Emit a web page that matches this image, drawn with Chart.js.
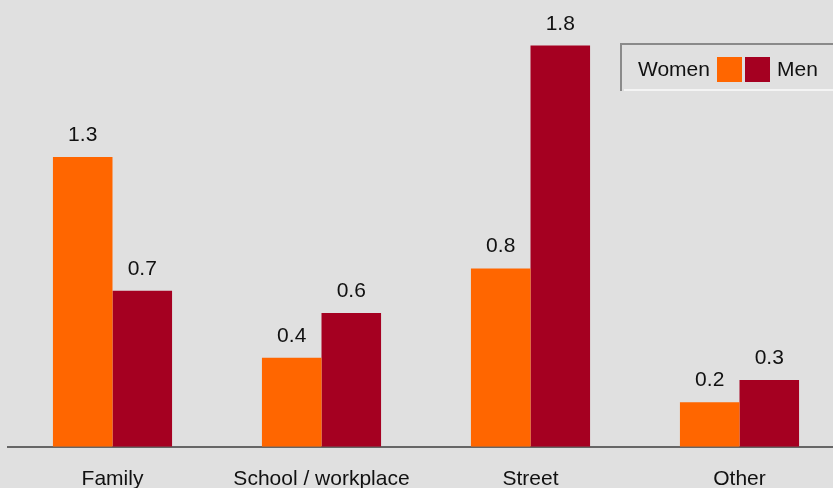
<!DOCTYPE html>
<html>
<head>
<meta charset="utf-8">
<script src="https://cdn.jsdelivr.net/npm/chart.js@4/dist/chart.umd.min.js"></script>
<style>
  html, body { margin: 0; padding: 0; background: #e0e0e0; overflow: hidden; }
  #wrap { width: 833px; height: 488px; overflow: hidden; position: relative; }
  #box { width: 844px; height: 512px; }
</style>
</head>
<body>
<div id="wrap"><div id="box"><canvas id="chart"></canvas></div></div>
<script>
// --- data ---
const categories = ["Family", "School / workplace", "Street", "Other"];
const womenValues = [1.3, 0.4, 0.8, 0.2];
const menValues = [0.7, 0.6, 1.8, 0.3];
const seriesNames = ["Women", "Men"];
const seriesColors = ["#ff6600", "#a50021"];

const FONT = "'Liberation Sans', Arial, sans-serif";

// value labels above each bar
const valueLabels = {
    id: "valueLabels",
    afterDatasetsDraw(chart) {
        const ctx = chart.ctx;
        ctx.save();
        ctx.font = "21px " + FONT;
        ctx.fillStyle = "#111";
        ctx.textAlign = "center";
        ctx.textBaseline = "alphabetic";
        chart.data.datasets.forEach((ds, i) => {
            chart.getDatasetMeta(i).data.forEach((bar, j) => {
                ctx.fillText(ds.data[j].toFixed(1), bar.x, bar.y - 16);
            });
        });
        ctx.restore();
    }
};

// legend box in the top right: "Women [■][■] Men"
const boxLegend = {
    id: "boxLegend",
    afterDraw(chart) {
        const ctx = chart.ctx;
        const ds = chart.data.datasets;
        ctx.save();
        // frame
        ctx.strokeStyle = "#f4f4f4";
        ctx.lineWidth = 2;
        ctx.beginPath();
        ctx.moveTo(624, 90); ctx.lineTo(844, 90);
        ctx.stroke();
        ctx.strokeStyle = "#8a8a8a";
        ctx.beginPath();
        ctx.moveTo(621, 91); ctx.lineTo(621, 44); ctx.lineTo(844, 44);
        ctx.stroke();

        ctx.font = "21px " + FONT;
        ctx.fillStyle = "#111";
        ctx.textBaseline = "alphabetic";
        ctx.textAlign = "left";
        ctx.fillText(ds[0].label, 638, 76);
        ctx.fillStyle = ds[0].backgroundColor;
        ctx.fillRect(717, 57, 25, 25);
        ctx.fillStyle = ds[1].backgroundColor;
        ctx.fillRect(745, 57, 25, 25);
        ctx.fillStyle = "#111";
        ctx.fillText(ds[1].label, 777, 76);
        ctx.restore();
    }
};

new Chart(document.getElementById("chart"), {
    type: "bar",
    data: {
        labels: categories,
        datasets: [
            { label: seriesNames[0], data: womenValues, backgroundColor: seriesColors[0] },
            { label: seriesNames[1], data: menValues, backgroundColor: seriesColors[1] }
        ]
    },
    options: {
        responsive: true,
        maintainAspectRatio: false,
        animation: false,
        layout: { padding: { left: 8, right: 0, top: 1, bottom: 0 } },
        datasets: { bar: { categoryPercentage: 0.57, barPercentage: 1.0 } },
        plugins: {
            legend: { display: false },
            tooltip: { enabled: false }
        },
        scales: {
            x: {
                grid: { display: false, drawTicks: false },
                border: { display: true, color: "#666", width: 2 },
                ticks: { color: "#111", padding: 20, font: { size: 21, family: FONT } }
            },
            y: {
                display: false,
                min: 0,
                max: 2
            }
        }
    },
    plugins: [valueLabels, boxLegend]
});
</script>
</body>
</html>
